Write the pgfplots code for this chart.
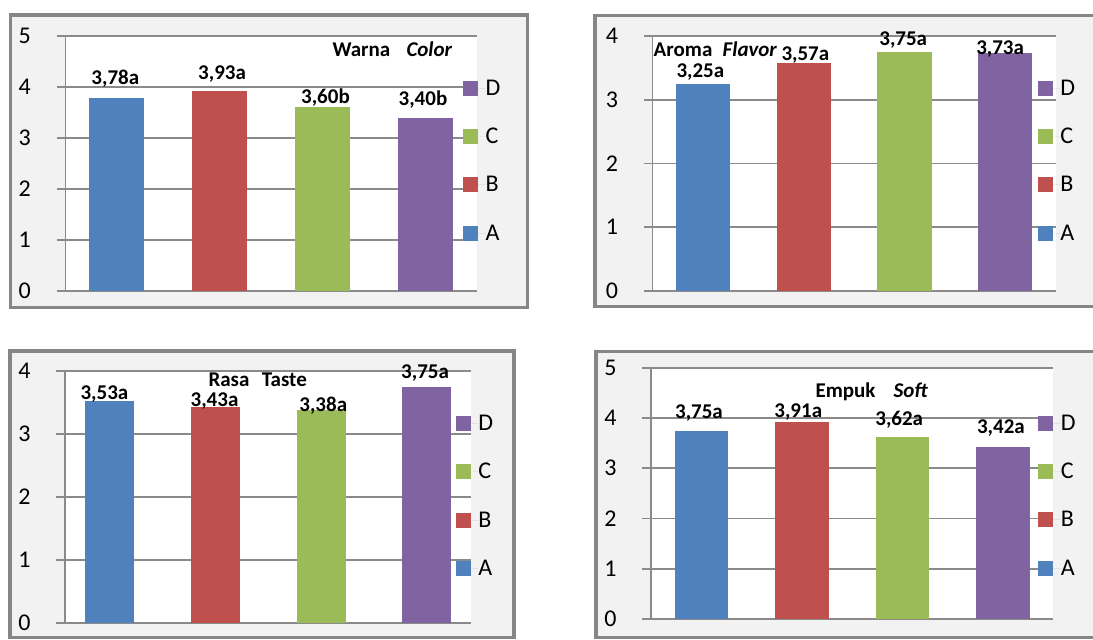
\documentclass[border=0pt]{standalone}
\usepackage{pgfplots}
\pgfplotsset{compat=1.18}
\usepackage{fontspec}
\setmainfont{Carlito}
\definecolor{cA}{HTML}{4F81BD}
\definecolor{cB}{HTML}{C0504D}
\definecolor{cC}{HTML}{9BBB59}
\definecolor{cD}{HTML}{8064A2}
\definecolor{bgc}{HTML}{F2F2F2}
\definecolor{framec}{HTML}{868686}
\definecolor{gridc}{HTML}{8A8A8A}
\pgfplotsset{
  panel/.style={
    scale only axis, anchor=south west,
    xmin=-0.5, xmax=3.5, ymin=0,
    xtick=\empty, ytick distance=1,
    axis lines=left, axis line style={draw=gridc, line width=1.6pt, -},
    ymajorgrids, grid style={draw=gridc, line width=1.6pt},
    tick align=outside, major tick length=8.6pt, tick style={draw=gridc, line width=1.6pt},
    yticklabel style={anchor=center, xshift=-32pt, font=\fontsize{24}{24}\selectfont},
    /pgf/number format/assume math mode=true,
    axis background/.style={fill=white},
    clip=false,
    reverse legend,
    legend cell align=left,
    legend image code/.code={\path (0pt,0pt) -- (22.5pt,0pt); \fill[##1] (0pt,-7.5pt) rectangle (15pt,7.5pt);},
    legend style={draw=none, fill=none, inner sep=0pt, outer sep=0pt, row sep=33.3pt, anchor=north west,
       font=\fontsize{24}{24}\selectfont,
       nodes={inner sep=0pt, text height=14.5pt, text depth=0.5pt, font=\fontsize{24}{24}\selectfont}},
  },
  bb/.style={ybar, fill=#1, draw=none, bar shift=0pt},
  lbl/.style n args={3}{nodes near coords={#1}, nodes near coords style={inner sep=0pt, text depth=0pt, font=\fontsize{21}{21}\selectfont\bfseries, yshift=#2pt, xshift=#3pt}},
}
\tikzset{ttl/.style={anchor=base west, inner sep=0pt, font=\fontsize{21}{21}\selectfont\bfseries}}
\begin{document}
\begin{tikzpicture}
\useasboundingbox (0pt,0pt) rectangle (1093pt,640pt);
% frames
\draw[draw=framec, fill=bgc, line width=3.5pt] (10.3pt,625pt) rectangle (527.5pt,332.5pt);
\draw[draw=framec, fill=bgc, line width=3.5pt] (595pt,624.5pt) rectangle (1120pt,333.5pt);
\draw[draw=framec, fill=bgc, line width=3.5pt] (10pt,289pt) rectangle (514pt,2.5pt);
\draw[draw=framec, fill=bgc, line width=3.5pt] (596pt,288.5pt) rectangle (1120pt,2.5pt);

% Panel 1: Warna
\begin{axis}[panel, at={(65.4pt,349pt)}, width=411.6pt, height=255pt, ymax=5,
  legend style={at={(0.9665,0.8243)}}]
\addplot[bb=cA, bar width=0.534, lbl={3,78a}{13.9}{-1.5}] coordinates {(0,3.78)};
\addplot[bb=cB, bar width=0.534, lbl={3,93a}{10.7}{2.3}] coordinates {(1,3.93)};
\addplot[bb=cC, bar width=0.534, lbl={3,60b}{4.1}{2.8}] coordinates {(2,3.60)};
\addplot[bb=cD, bar width=0.534, lbl={3,40b}{12.0}{-2.6}] coordinates {(3,3.40)};
\legend{A,B,C,D}
\end{axis}
\node[ttl] at (332.3pt,583.2pt) {Warna};
\node[ttl] at (406.3pt,583.2pt) {\itshape Color};

% Panel 2: Aroma
\begin{axis}[panel, at={(652.5pt,349pt)}, width=403.1pt, height=255pt, ymax=4,
  legend style={at={(0.9561,0.8243)}}]
\addplot[bb=cA, bar width=0.538, lbl={3,25a}{6.5}{-2.5}] coordinates {(0,3.25)};
\addplot[bb=cB, bar width=0.538, lbl={3,57a}{2.5}{1.7}] coordinates {(1,3.57)};
\addplot[bb=cC, bar width=0.538, lbl={3,75a}{6.1}{-1.2}] coordinates {(2,3.75)};
\addplot[bb=cD, bar width=0.538, lbl={3,73a}{-1.1}{-5.1}] coordinates {(3,3.73)};
\legend{A,B,C,D}
\end{axis}
\node[ttl] at (653.5pt,583.2pt) {Aroma};
\node[ttl] at (722.5pt,583.2pt) {\itshape Flavor};

% Panel 3: Rasa
\begin{axis}[panel, at={(65pt,17pt)}, width=406pt, height=252pt, ymax=4,
  legend style={at={(0.963,0.8214)}}]
\addplot[bb=cA, bar width=0.483, lbl={3,53a}{1.3}{-5}] coordinates {(-0.062,3.53)};
\addplot[bb=cB, bar width=0.483, lbl={3,43a}{0.3}{-1.1}] coordinates {(0.984,3.43)};
\addplot[bb=cC, bar width=0.483, lbl={3,38a}{-1.5}{2}] coordinates {(2.025,3.38)};
\addplot[bb=cD, bar width=0.483, lbl={3,75a}{8.4}{-1.5}] coordinates {(3.062,3.75)};
\legend{A,B,C,D}
\end{axis}
\node[ttl] at (208.3pt,253.2pt) {Rasa};
\node[ttl] at (261.7pt,253.2pt) {Taste};

% Panel 4: Empuk
\begin{axis}[panel, at={(651pt,21pt)}, width=402.3pt, height=251.3pt, ymax=5,
  legend style={at={(0.9627,0.8086)}}]
\addplot[bb=cA, bar width=0.531, lbl={3,75a}{12.2}{-2.3}] coordinates {(0,3.75)};
\addplot[bb=cB, bar width=0.531, lbl={3,91a}{5.2}{-3.6}] coordinates {(1,3.91)};
\addplot[bb=cC, bar width=0.531, lbl={3,62a}{11.5}{-3.2}] coordinates {(2,3.62)};
\addplot[bb=cD, bar width=0.531, lbl={3,42a}{13.2}{-2.1}] coordinates {(3,3.42)};
\legend{A,B,C,D}
\end{axis}
\node[ttl] at (815.3pt,242.9pt) {Empuk};
\node[ttl] at (893.3pt,242.9pt) {\itshape Soft};
\end{tikzpicture}
\end{document}
